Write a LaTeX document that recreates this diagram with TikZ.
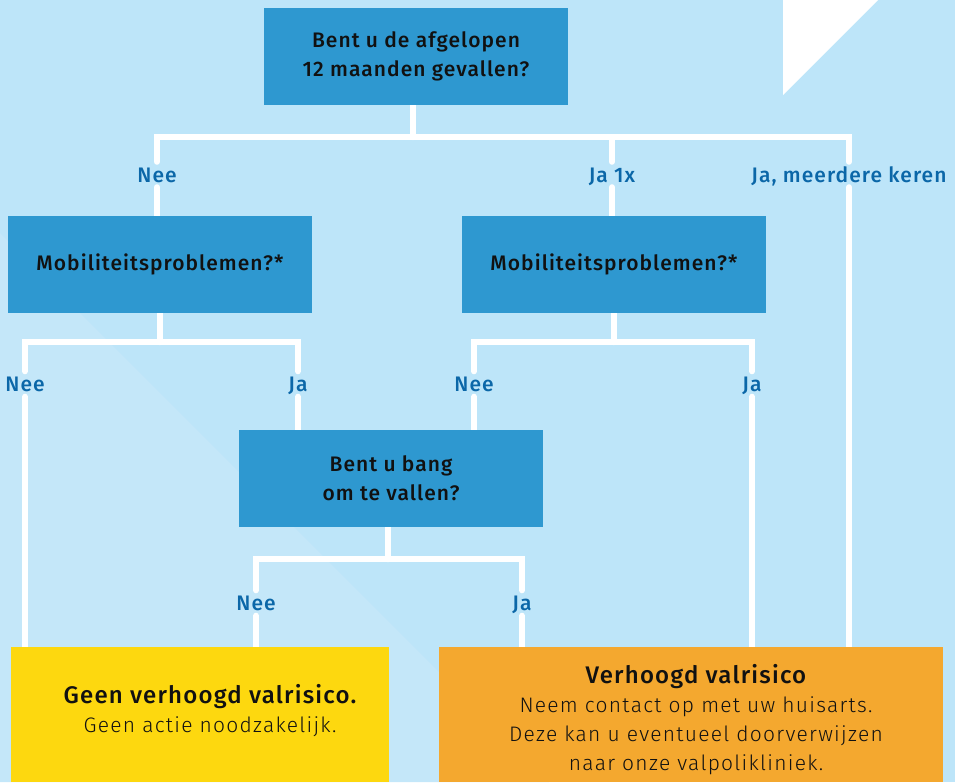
\documentclass[tikz,border=0pt]{standalone}
\usepackage{fontspec}
\setmainfont{Fira Sans}[BoldFont={Fira Sans Medium},LetterSpace=5]
\newfontfamily\lightfont{Fira Sans Light}[LetterSpace=6]
\usepackage{tikz}
\usepackage{xcolor}
\definecolor{ColSky}{RGB}{189,229,249}
\definecolor{ColSkyLight}{RGB}{196,231,249}
\definecolor{ColBox}{RGB}{46,152,208}
\definecolor{ColSafe}{RGB}{253,216,15}
\definecolor{ColRisk}{RGB}{244,168,47}
\definecolor{ColLabel}{RGB}{11,103,168}
\definecolor{ColInk}{RGB}{17,17,17}
\pgfdeclarelayer{back}
\pgfdeclarelayer{wires}
\pgfsetlayers{back,wires,main}
\tikzstyle{BoxAsk}=[fill=ColBox,minimum width=304pt,minimum height=97pt,inner sep=0pt,
align=center,text=ColInk,font=\fontsize{21}{29}\selectfont\bfseries]
\tikzstyle{Answer}=[inner sep=0pt,minimum height=25pt,text height=15pt,text depth=0pt,
text=ColLabel,font=\fontsize{21}{25}\selectfont\bfseries]
\tikzstyle{BoxEnd}=[inner sep=0pt,minimum height=135pt]
\tikzstyle{EndText}=[align=center,text=ColInk,inner sep=0pt,font=\fontsize{21}{29}\lightfont]
\tikzstyle{Wire}=[draw=white,line width=6pt,line cap=round]

\begin{document}
\begin{tikzpicture}[x=1pt,y=-1pt]
        \useasboundingbox (0,0) rectangle (955,782);
        \begin{pgfonlayer}{back}
            \fill[ColSky] (0,0) rectangle (955,782);
            \fill[ColSkyLight] (0,233) -- (549,782) -- (0,782) -- cycle;
            \fill[white] (783,0) -- (878,0) -- (783,95) -- cycle;
        \end{pgfonlayer}
        % questions
        \node[BoxAsk](fall)at(416,56.5){Bent u de afgelopen\\12 maanden gevallen?};
        \node[BoxAsk](mobA)at(160,264.5){Mobiliteitsproblemen?*};
        \node[BoxAsk](mobB)at(614,264.5){Mobiliteitsproblemen?*};
        \node[BoxAsk](fear)at(391,478.5){Bent u bang\\om te vallen?};
        % outcomes
        \node[BoxEnd,fill=ColSafe,minimum width=378pt](safe)at(200,714.5){};
        \node[BoxEnd,fill=ColRisk,minimum width=504pt](risk)at(691,714.5){};
        \node[EndText](safeTxt)at(210,711){{\fontsize{24}{29}\selectfont\rmfamily\bfseries Geen verhoogd valrisico.}\\Geen actie noodzakelijk.};
        \node[EndText](riskTxt)at(696,720){{\fontsize{24}{29}\selectfont\rmfamily\bfseries Verhoogd valrisico}\\Neem contact op met uw huisarts.\\Deze kan u eventueel doorverwijzen\\naar onze valpolikliniek.};
        % answers
        \node[Answer](neeA)at(157,174.5){Nee};
        \node[Answer](jaOnce)at(612,174.5){Ja 1x};
        \node[Answer](jaMany)at(849,174.5){Ja, meerdere keren};
        \node[Answer](neeB)at(25,384){Nee};
        \node[Answer](jaB)at(298,384){Ja};
        \node[Answer](neeC)at(474,384){Nee};
        \node[Answer](jaC)at(752,384){Ja};
        \node[Answer](neeD)at(256,603){Nee};
        \node[Answer](jaD)at(522,603){Ja};
        % wires
        \coordinate(busA)at([xshift=-3pt,yshift=-32pt]fall.south);
        \coordinate(busB)at([yshift=-29pt]mobA.south);
        \coordinate(busC)at([yshift=-29pt]mobB.south);
        \coordinate(busD)at([xshift=-3pt,yshift=-32pt]fear.south);
        \begin{pgfonlayer}{wires}
            \draw[Wire](busA|-fall.south)--(busA);
            \draw[Wire](busA)-|(neeA.north);
            \draw[Wire](busA)-|(jaOnce.north);
            \draw[Wire](busA)-|(jaMany.north);
            \draw[Wire](mobA.south)--(busB);
            \draw[Wire](busB)-|(neeB.north);
            \draw[Wire](busB)-|(jaB.north);
            \draw[Wire](mobB.south)--(busC);
            \draw[Wire](busC)-|(neeC.north);
            \draw[Wire](busC)-|(jaC.north);
            \draw[Wire](busD|-fear.south)--(busD);
            \draw[Wire](busD)-|(neeD.north);
            \draw[Wire](busD)-|(jaD.north);
            \draw[Wire](neeA.south)--(neeA.south|-mobA.north);
            \draw[Wire](jaOnce.south)--(jaOnce.south|-mobB.north);
            \draw[Wire](jaMany.south)--(jaMany.south|-risk.north);
            \draw[Wire](neeB.south)--(neeB.south|-safe.north);
            \draw[Wire](jaB.south)--(jaB.south|-fear.north);
            \draw[Wire](neeC.south)--(neeC.south|-fear.north);
            \draw[Wire](jaC.south)--(jaC.south|-risk.north);
            \draw[Wire](neeD.south)--(neeD.south|-safe.north);
            \draw[Wire](jaD.south)--(jaD.south|-risk.north);
        \end{pgfonlayer}
    \end{tikzpicture}
\end{document}
